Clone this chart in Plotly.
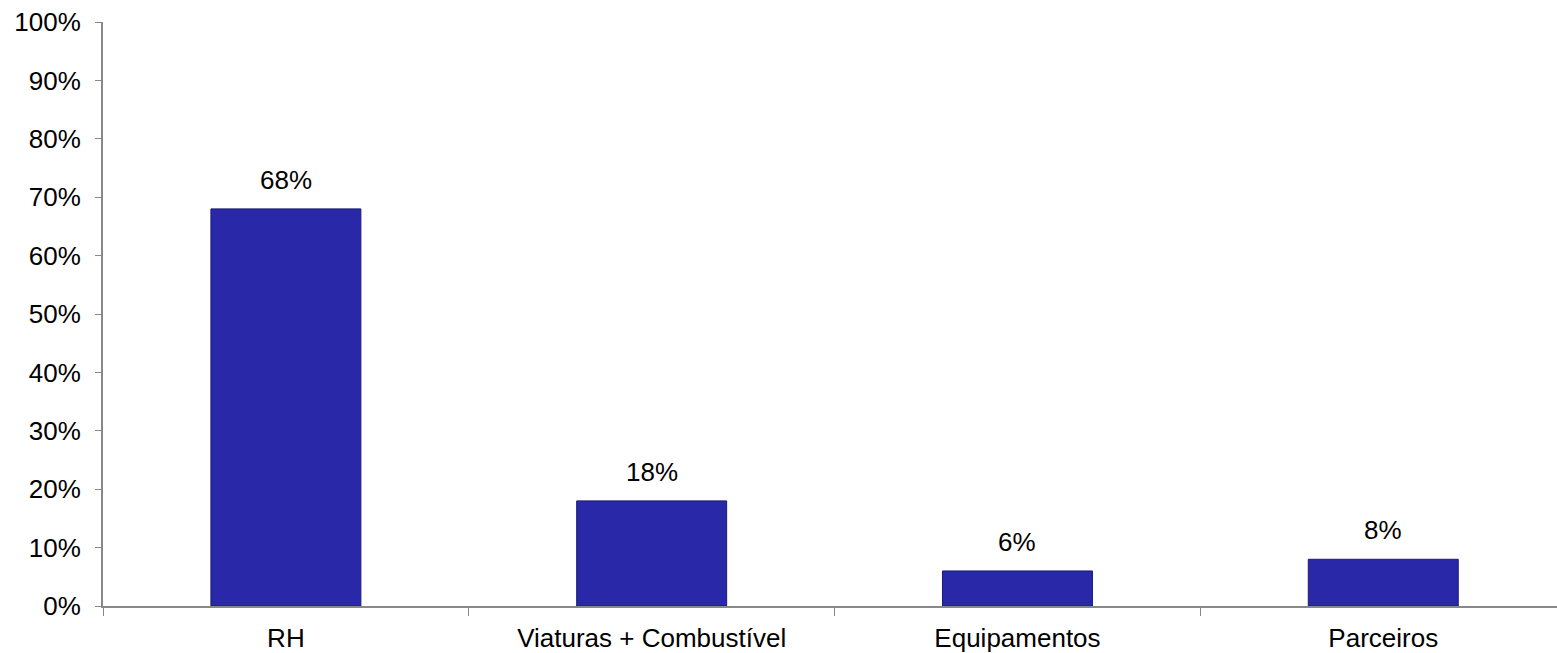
import plotly.graph_objects as go

categories = ["RH", "Viaturas + Combustível", "Equipamentos", "Parceiros"]
values = [68, 18, 6, 8]
labels = ["68%", "18%", "6%", "8%"]
y_ticks = [0, 10, 20, 30, 40, 50, 60, 70, 80, 90, 100]
y_tick_labels = [f"{v}%" for v in y_ticks]

FONT = "Liberation Sans, Arial, sans-serif"

fig = go.Figure(
    go.Bar(
        x=categories,
        y=values,
        marker=dict(color="#2828A8", line=dict(color="#1A1A78", width=1)),
    )
)

for c, v, t in zip(categories, values, labels):
    fig.add_annotation(
        x=c, y=v, text=t, showarrow=False,
        yanchor="bottom", yshift=12,
        font=dict(size=26, color="#000000", family=FONT),
    )

fig.update_layout(
    width=1557,
    height=653,
    margin=dict(l=103, r=0, t=22, b=47),
    paper_bgcolor="white",
    plot_bgcolor="white",
    bargap=0.59,
    showlegend=False,
    font=dict(family=FONT, size=26, color="#000000"),
)

fig.update_xaxes(
    type="category",
    range=[-0.5, 3.475],
    showline=True,
    linecolor="#888888",
    linewidth=2,
    ticks="outside",
    tickson="boundaries",
    ticklen=8,
    tickcolor="#888888",
    tickwidth=1,
    showgrid=False,
    ticklabelstandoff=8,
    tickfont=dict(size=26),
)

fig.update_yaxes(
    range=[0, 100],
    tickvals=y_ticks,
    ticktext=y_tick_labels,
    showline=True,
    linecolor="#888888",
    linewidth=2,
    ticks="outside",
    ticklen=6,
    tickcolor="#888888",
    tickwidth=1,
    showgrid=False,
    zeroline=False,
    ticklabelstandoff=9,
    tickfont=dict(size=26),
)

fig.write_html("out.html")
